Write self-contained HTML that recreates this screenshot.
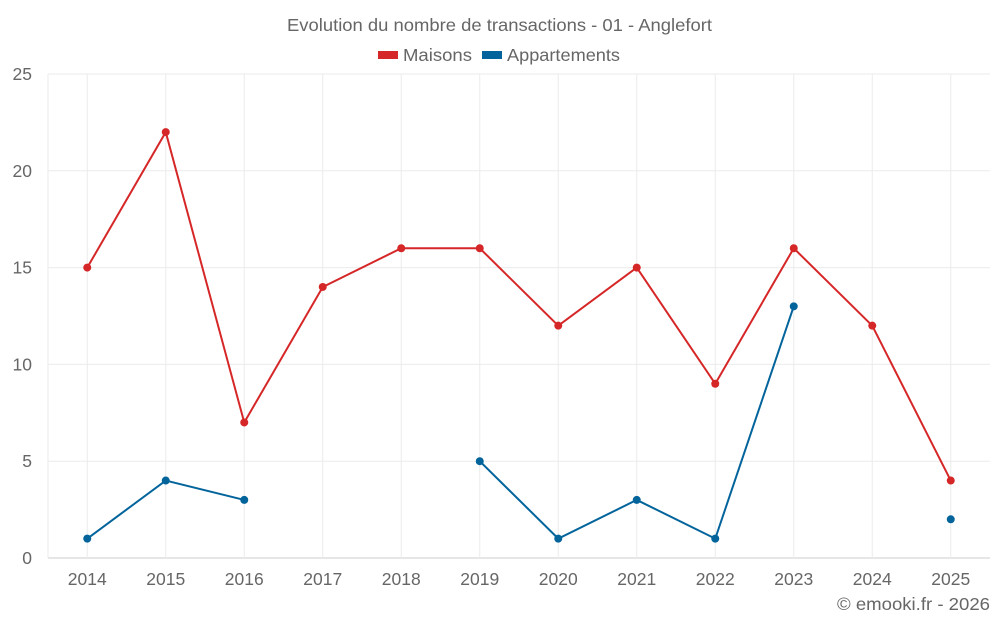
<!DOCTYPE html>
<html><head><meta charset="utf-8"><style>
body{margin:0;background:#fff;font-family:"Liberation Sans",sans-serif}
svg text{font-family:"Liberation Sans",sans-serif;fill:#666}
</style></head><body>
<svg id="c" width="1000" height="625">
<text x="287" y="31" font-size="17.5" textLength="425" lengthAdjust="spacingAndGlyphs">Evolution du nombre de transactions - 01 - Anglefort</text>
<g>
<g><rect x="378" y="51" width="20" height="8" fill="#d62728"/><text x="403" y="61" font-size="17.5" textLength="69" lengthAdjust="spacingAndGlyphs">Maisons</text></g>
<g><rect x="482" y="51" width="20" height="8" fill="#03649c"/><text x="507" y="61" font-size="17.5" textLength="113" lengthAdjust="spacingAndGlyphs">Appartements</text></g>
</g>
<text x="837" y="610" font-size="17.5" textLength="153" lengthAdjust="spacingAndGlyphs">© emooki.fr - 2026</text>
</svg>
<script>
const years=["2014","2015","2016","2017","2018","2019","2020","2021","2022","2023","2024","2025"];
const maisons=[15,22,7,14,16,16,12,15,9,16,12,4];
const appartements=[1,4,3,null,null,5,1,3,1,13,null,2];
const yTicks=[0,5,10,15,20,25];
const svg=document.getElementById('c');const NS='http://www.w3.org/2000/svg';
const L=48,R=990,T=74,B=558,bw=(R-L)/years.length;
const x=i=>L+bw*(i+0.5);const y=v=>B-(v/25)*(B-T);
function mk(t,a,p){const e=document.createElementNS(NS,t);for(const k in a)e.setAttribute(k,a[k]);(p||svg).appendChild(e);return e;}
yTicks.forEach(v=>{
const g=mk('line',{x1:L,x2:R,y1:y(v),y2:y(v),stroke:v===0?'#ccc':'#ebebeb'});


const t=mk('text',{x:32,y:y(v)+6,'text-anchor':'end','font-size':17.5});t.textContent=v;


});
years.forEach((yr,i)=>{
const g=mk('line',{x1:x(i),x2:x(i),y1:T,y2:B,stroke:'#ebebeb'});


const t=mk('text',{x:x(i),y:585,'text-anchor':'middle','font-size':17.5});t.textContent=yr;


});
const l0=mk('line',{x1:L,x2:L,y1:T,y2:B,stroke:'#ebebeb'});


function series(vals,col,name){
let segs=[],cur=[];
vals.forEach((v,i)=>{if(v==null){if(cur.length)segs.push(cur);cur=[];}else cur.push([x(i),y(v)]);});
if(cur.length)segs.push(cur);
segs.forEach(s=>{if(s.length>1){const p=mk('polyline',{points:s.map(q=>q.join(',')).join(' '),fill:'none',stroke:col,'stroke-width':2});

}});
vals.forEach((v,i)=>{if(v==null)return;const c=mk('circle',{cx:x(i),cy:y(v),r:4,fill:col});

});
}
series(maisons,'#d62728','maisons');
series(appartements,'#03649c','appartements');
</script>
</body></html>
